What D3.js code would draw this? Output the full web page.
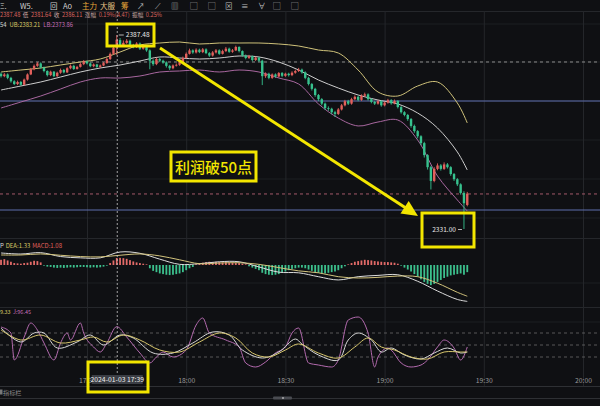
<!DOCTYPE html>
<html><head><meta charset="utf-8">
<script src="https://cdn.jsdelivr.net/npm/d3@7/dist/d3.min.js"></script>
<style>html,body{margin:0;padding:0;background:#0f1013;overflow:hidden}svg{display:block}</style>
</head><body><svg id="c" width="600" height="406"></svg>
<script>
// ---------- DATA ----------
const startTime = "2024-01-03T17:04:00";
const opens = [2376.2,2375.5,2376.0,2375.0,2374.0,2373.2,2373.8,2373.0,2374.5,2376.0,
 2377.5,2378.5,2379.2,2378.0,2377.0,2375.8,2376.8,2375.5,2376.5,2377.3,
 2376.6,2377.8,2378.5,2377.6,2378.2,2379.0,2379.8,2379.2,2378.4,2378.9,
 2378.2,2378.6,2379.3,2380.5,2382.0,2383.8,2386.0,2384.5,2385.2,2385.8,
 2384.6,2384.0,2385.0,2383.5,2384.2,2383.0,2380.0,2379.0,2380.5,2380.0,
 2379.5,2378.5,2377.8,2378.6,2378.8,2379.6,2380.8,2382.0,2383.0,2382.4,
 2383.2,2382.5,2383.3,2382.2,2381.5,2382.4,2383.0,2382.0,2382.8,2383.5,
 2382.6,2383.0,2384.0,2382.8,2381.5,2380.8,2381.3,2380.2,2380.9,2380.0,
 2375.5,2376.2,2375.0,2376.0,2375.4,2376.4,2375.6,2376.2,2375.8,2376.5,
 2377.0,2377.4,2376.6,2375.0,2373.2,2371.8,2370.0,2368.8,2367.5,2366.2,
 2366.0,2365.0,2364.5,2365.8,2367.0,2368.2,2367.5,2368.8,2369.5,2368.6,
 2369.8,2370.2,2368.8,2368.0,2367.5,2368.2,2367.0,2367.8,2368.5,2367.6,
 2368.3,2366.5,2365.0,2364.2,2363.0,2361.0,2359.5,2358.0,2356.0,2352.5,
 2349.0,2345.0,2348.5,2349.5,2348.5,2349.8,2349.0,2347.0,2345.5,2344.0,
 2341.5,2338.0];
const highs = [2376.6,2376.4,2376.3,2375.3,2374.3,2374.2,2374.1,2374.8,2376.3,2377.9,
 2378.9,2379.6,2379.5,2378.3,2377.2,2377.1,2377.0,2376.8,2377.7,2377.6,
 2378.1,2378.9,2378.8,2378.5,2379.4,2380.2,2380.0,2379.5,2379.2,2379.1,
 2378.9,2379.6,2380.9,2382.4,2384.3,2387.48,2386.6,2385.9,2386.3,2386.1,
 2384.9,2385.4,2385.3,2384.6,2384.5,2383.3,2380.4,2380.9,2380.9,2380.3,
 2379.8,2378.8,2378.9,2379.2,2380.0,2381.2,2382.4,2383.5,2383.3,2383.6,
 2383.5,2383.7,2383.6,2382.5,2382.8,2383.4,2383.3,2383.2,2384.0,2383.8,
 2383.4,2384.4,2384.2,2383.0,2381.8,2381.7,2381.5,2381.2,2381.1,2380.3,
 2376.6,2376.5,2376.3,2376.3,2376.7,2376.7,2376.5,2376.5,2376.9,2377.4,
 2377.9,2377.7,2376.9,2375.3,2373.5,2372.1,2370.3,2369.1,2367.8,2366.7,
 2366.3,2365.4,2366.2,2367.4,2368.6,2368.6,2369.2,2369.9,2369.8,2370.2,
 2370.7,2370.5,2369.1,2368.3,2368.6,2368.5,2368.1,2368.9,2368.8,2368.7,
 2368.5,2366.8,2365.3,2364.5,2363.3,2361.4,2359.8,2358.3,2356.4,2352.8,
 2349.4,2349.0,2350.1,2349.9,2350.4,2350.2,2349.3,2347.3,2345.8,2344.3,
 2342.0,2341.8];
const lows = [2375.1,2375.2,2374.6,2373.6,2372.9,2372.9,2372.7,2372.8,2374.2,2375.8,
 2377.2,2378.2,2377.7,2376.6,2375.4,2375.5,2375.2,2375.3,2376.2,2376.3,
 2376.4,2377.5,2377.3,2377.4,2378.0,2378.7,2378.9,2378.1,2378.1,2377.9,
 2377.9,2378.4,2379.1,2380.2,2381.7,2381.64,2384.0,2384.1,2384.9,2384.2,
 2383.6,2383.7,2383.1,2383.2,2382.6,2377.5,2378.5,2378.7,2379.6,2379.1,
 2378.0,2377.3,2377.5,2378.3,2378.5,2379.4,2380.6,2381.8,2382.0,2382.1,
 2382.2,2382.2,2381.9,2381.1,2381.2,2382.1,2381.7,2381.8,2382.5,2382.3,
 2382.3,2382.8,2382.4,2381.2,2380.4,2380.5,2379.8,2379.9,2379.6,2372.9,
 2375.0,2374.6,2374.7,2375.0,2375.1,2375.2,2375.3,2375.4,2375.5,2376.2,
 2376.7,2376.2,2374.6,2372.8,2371.3,2369.5,2368.3,2367.0,2365.7,2365.4,
 2364.4,2363.6,2364.2,2365.5,2366.7,2367.1,2367.2,2368.5,2368.2,2368.3,
 2369.5,2368.4,2367.6,2367.1,2367.2,2366.6,2366.7,2367.5,2367.2,2367.3,
 2366.1,2364.6,2363.8,2362.5,2360.5,2359.0,2357.4,2355.4,2351.8,2348.3,
 2342.5,2344.6,2348.1,2348.0,2348.2,2348.6,2346.5,2345.0,2343.5,2341.0,
 2331.0,2337.6];
const closes = [2375.5,2376.0,2375.0,2374.0,2373.2,2373.8,2373.0,2374.5,2376.0,2377.5,
 2378.5,2379.2,2378.0,2377.0,2375.8,2376.8,2375.5,2376.5,2377.3,2376.6,
 2377.8,2378.5,2377.6,2378.2,2379.0,2379.8,2379.2,2378.4,2378.9,2378.2,
 2378.6,2379.3,2380.5,2382.0,2383.8,2386.11,2384.5,2385.2,2385.8,2384.6,
 2384.0,2385.0,2383.5,2384.2,2383.0,2380.0,2379.0,2380.5,2380.0,2379.5,
 2378.5,2377.8,2378.6,2378.8,2379.6,2380.8,2382.0,2383.0,2382.4,2383.2,
 2382.5,2383.3,2382.2,2381.5,2382.4,2383.0,2382.0,2382.8,2383.5,2382.6,
 2383.0,2384.0,2382.8,2381.5,2380.8,2381.3,2380.2,2380.9,2380.0,2375.5,
 2376.2,2375.0,2376.0,2375.4,2376.4,2375.6,2376.2,2375.8,2376.5,2377.0,
 2377.4,2376.6,2375.0,2373.2,2371.8,2370.0,2368.8,2367.5,2366.2,2366.0,
 2365.0,2364.5,2365.8,2367.0,2368.2,2367.5,2368.8,2369.5,2368.6,2369.8,
 2370.2,2368.8,2368.0,2367.5,2368.2,2367.0,2367.8,2368.5,2367.6,2368.3,
 2366.5,2365.0,2364.2,2363.0,2361.0,2359.5,2358.0,2356.0,2352.5,2349.0,
 2345.0,2348.5,2349.5,2348.5,2349.8,2349.0,2347.0,2345.5,2344.0,2341.5,
 2338.5,2341.3];

// Bollinger bands (sampled at candle indices)
const bollIdx = [0,6,12,18,24,30,36,42,48,54,60,66,72,78,84,90,96,102,108,114,120,126,132,138,141];
const bollUB = [2376.71,2377.29,2377.87,2378.75,2379.62,2380.49,2382.53,2384.57,2385.15,2385.44,2384.86,2385.15,2385.15,2385.15,2384.86,2384.28,2383.11,2382.24,2377.29,2370.89,2369.72,2372.63,2373.80,2367.68,2361.86];
const bollMB = [2371.47,2372.63,2373.80,2375.25,2376.71,2377.87,2378.75,2379.91,2381.08,2380.78,2380.49,2380.78,2381.37,2381.08,2379.62,2377.29,2374.38,2372.05,2370.01,2368.56,2367.39,2364.77,2360.41,2353.42,2348.18];
const bollLB = [2366.23,2367.97,2369.72,2371.76,2373.80,2374.96,2374.96,2375.54,2376.71,2377.00,2377.29,2376.71,2377.29,2376.71,2374.96,2373.22,2367.40,2363.30,2361.00,2362.15,2362.73,2356.91,2346.43,2339.45,2336.24];

// MACD
const macdHist = [0.8,0.9,0.7,0.5, 0.3,0.25,0.2,0.3,0.35, 0.5,0.65,0.6,0.4,
 -0.1,-0.25,-0.3,-0.4,-0.45,-0.4,-0.45,-0.4,-0.35,-0.4,-0.35,-0.3,-0.3,-0.35,-0.4,-0.35,-0.4,-0.35,-0.25,-0.1,
 0.3,0.7,1.08,1.1,1.05,0.95,0.75,0.55, 0.4,0.3,0.2,0.1,
 -0.5,-0.9,-1.1,-1.3,-1.4,-1.5,-1.55,-1.5,-1.4,-1.3,-1.1,-0.8,-0.5,-0.3,
 0.1,0.25,0.35,0.45,0.5,0.45,0.5,0.45,0.4,0.45,0.4,0.35, 0.3,0.3,0.2,0.1,
 -0.2,-0.4,-0.6,-0.8,-1.2,-1.4,-1.5,-1.55,-1.5,-1.4,-1.2,-1.0,-0.8,-0.6,
 -0.5,-0.4,-0.4,-0.5,-0.7,-0.9,-1.1,-1.2,-1.3,-1.3,-1.2,-1.1,-1.0,-0.8,-0.5,
 -0.2,0.1,0.3,0.5,0.6,0.7,0.8,0.75,0.7,0.6,0.55,0.5,0.45,0.45,0.4,0.35,0.2,
 -0.1,-0.4,-0.7,-1.0,-1.4,-1.8,-2.2,-2.6,-2.9,-3.1,-2.9,-2.6,-2.3,-2.0,-1.8,-1.6,-1.5,-1.4,
 -1.3,-1.5,-1.1];
const macdIdx = [0,6,12,18,24,30,36,42,48,54,60,66,72,78,84,90,96,102,108,114,120,126,132,138,141];
const difVals = [1.85,1.69,1.9,1.3,1.1,1.1,2.0,1.8,0.9,0.1,0.2,0.5,0.5,-0.3,-1.1,-1.2,-1.8,-2.3,-1.8,-1.6,-1.5,-2.5,-4.0,-5.3,-5.6];
const deaVals = [1.54,1.54,1.7,1.5,1.3,1.25,1.5,1.7,1.4,0.8,0.2,0.3,0.35,0.1,-0.4,-0.9,-1.2,-1.8,-2.0,-1.9,-1.7,-1.8,-2.8,-4.2,-4.8];

// KDJ
const kIdx = [0,6,10,13,17,23,27,31,36,40,46,52,58,64,69,73,79,84,89,91,96,102,105,108,112,115,118,122,127,131,135,139,141];
const kVals = [92.5,57.5,80,80,42.5,57.5,75,50,75,67.5,30,30,55,82.5,75,37.5,17.5,32.5,65,52.5,25,12.5,62.5,80,62.5,32.5,42.5,25,15,30,42.5,30,32.5];
const dIdx = [0,6,12,18,24,28,32,37,42,48,54,60,66,71,76,81,86,90,96,102,107,111,115,119,124,129,134,139,141];
const dVals = [87.5,62.5,75,55,62.5,70,57.5,75,62.5,37.5,32.5,57.5,80,67.5,30,20,37.5,52.5,30,17.5,45,67.5,45,37.5,20,15,32.5,32.5,32.5];
const jIdx = [0,3,4,7,9,11,13,16,18,20,21,24,25,28,30,32,35,38,42,45,47,49,52,56,59,61,63,68,72,74,77,80,83,86,88,90,93,96,100,102,105,108,111,113,114,117,118,121,124,127,129,132,134,137,139,141];
const jVals = [95,80,12.5,70,105,87.5,55,12.5,55,80,62.5,105,80,45,32.5,55,96,70,30,5,20,32.5,20,37.5,100,117.5,80,62.5,45,5,-5,7.5,30,45,80,92.5,5,0,-5,12.5,112.5,120,80,-5,20,42.5,37.5,5,-5,0,12.5,45,62.5,42.5,12.5,45];
const kdjLevels = [20,50,80];

const timeTicks = ["17:30","18:00","18:30","19:00","19:30","20:00"];
const refLevels = {whiteDash: 2379.62, pinkDash: 2341.2, blue1: 2368.27, blue2: 2336.53};
const crossIndex = 35;
const headerLine2 = [["2387.48","n"],["低","l"],["2381.64","n"],["收","l"],["2386.11","n"],["涨幅","l"],["0.19%(4.47)","n"],["振幅","l"],["0.25%","n"]];
const headerLine3 = [["54","w"],["UB:2383.21","y"],["LB:2373.86","p"]];
const macdLabel = [["P","w"],["DEA:1.33","y"],["MACD:1.08","r"]];
const kdjLabel = [["9.33","y"],["J:96.45","p"]];
const toolbarItems = ["Ξ.","W5.","回","Ao","主力","大服","筹","↗","⟋","▥","▢","▢","⊠","≡","∀","▢","▢"];
const annotationText = "利润破50点";
const footerText = "指标栏";

// ---------- SCALES ----------
const parse = d3.timeParse("%Y-%m-%dT%H:%M:%S");
const t0 = parse(startTime);
const times = closes.map((_, i) => d3.timeMinute.offset(t0, i));
const tickDates = timeTicks.map(s => parse("2024-01-03T" + s + ":00"));
const xs = d3.scaleTime().domain([tickDates[0], tickDates[5]]).range([87, 583]);
const ys = d3.scaleLinear().domain([2331.0, 2387.48]).range([229, 35]);
const ym = d3.scaleLinear().domain([-6, 3]).range([304, 245.5]);
const yk = d3.scaleLinear().domain([0, 100]).range([365, 325]);

const RED = "#e3605c", GREEN = "#37c28e";
const FONT = "'Noto Sans CJK SC','Noto Sans',sans-serif";
const svg = d3.select("#c");
svg.append("rect").attr("width",600).attr("height",406).attr("fill","#0f1013");

// grid
const g = svg.append("g");
[24,62,101,140,179,218,283,322].forEach(y => g.append("line").attr("x1",0).attr("x2",600).attr("y1",y).attr("y2",y).attr("stroke","#1c1e22").attr("stroke-width",1));
[11,238,307].forEach(y => g.append("line").attr("x1",0).attr("x2",600).attr("y1",y+0.5).attr("y2",y+0.5).attr("stroke","#25272b"));
tickDates.forEach(d => g.append("line").attr("x1",xs(d)+0.5).attr("x2",xs(d)+0.5).attr("y1",11).attr("y2",386).attr("stroke","#24262a"));
g.append("line").attr("x1",0).attr("x2",600).attr("y1",386.5).attr("y2",386.5).attr("stroke","#2e3034");
g.append("line").attr("x1",0).attr("x2",600).attr("y1",398.5).attr("y2",398.5).attr("stroke","#2e3034");

// reference lines
g.append("line").attr("x1",0).attr("x2",600).attr("y1",ys(refLevels.whiteDash)).attr("y2",ys(refLevels.whiteDash)).attr("stroke","#8d8d8d").attr("stroke-dasharray","3,3");
g.append("line").attr("x1",0).attr("x2",600).attr("y1",ys(refLevels.pinkDash)).attr("y2",ys(refLevels.pinkDash)).attr("stroke","#a4586a").attr("stroke-dasharray","3,3");
g.append("line").attr("x1",0).attr("x2",600).attr("y1",ys(refLevels.blue1)).attr("y2",ys(refLevels.blue1)).attr("stroke","#5f6fae").attr("stroke-width",1.2);
g.append("line").attr("x1",0).attr("x2",600).attr("y1",ys(refLevels.blue2)).attr("y2",ys(refLevels.blue2)).attr("stroke","#5f6fae").attr("stroke-width",1.2);
kdjLevels.forEach(v => g.append("line").attr("x1",0).attr("x2",600).attr("y1",yk(v)).attr("y2",yk(v)).attr("stroke","#6a6a6a").attr("stroke-dasharray","3,3").attr("stroke-width",0.8));

// Bollinger
const bline = (vals) => d3.line().x((d,i)=>xs(times[bollIdx[i]])).y(d=>ys(d)).curve(d3.curveCatmullRom)(vals);
svg.append("path").attr("d",bline(bollUB)).attr("fill","none").attr("stroke","#cfc27a").attr("stroke-width",1);
svg.append("path").attr("d",bline(bollMB)).attr("fill","none").attr("stroke","#cdcdcd").attr("stroke-width",1);
svg.append("path").attr("d",bline(bollLB)).attr("fill","none").attr("stroke","#a8679f").attr("stroke-width",1);

// candles
const cg = svg.append("g");
closes.forEach((c,i) => {
  const o = opens[i], up = c >= o, col = up ? RED : GREEN;
  const x = xs(times[i]);
  cg.append("line").attr("x1",x).attr("x2",x).attr("y1",ys(highs[i])).attr("y2",ys(lows[i])).attr("stroke",col).attr("stroke-width",0.9);
  const y1 = ys(Math.max(o,c)), y2 = ys(Math.min(o,c));
  cg.append("rect").attr("x",x-1.2).attr("width",2.4).attr("y",y1).attr("height",Math.max(0.8,y2-y1)).attr("fill",col);
});

// MACD
const mg = svg.append("g");
macdHist.forEach((v,i) => {
  const x = xs(times[i]);
  mg.append("rect").attr("x",x-0.9).attr("width",1.8).attr("y",Math.min(ym(v),ym(0))).attr("height",Math.max(0.6,Math.abs(ym(v)-ym(0)))).attr("fill", v>=0 ? "#e26a68" : "#3cc08d");
});
const mline = (idx, vals) => d3.line().x((d,i)=>xs(times[idx[i]])).y(d=>ym(d)).curve(d3.curveCatmullRom)(vals);
mg.append("path").attr("d",mline(macdIdx,difVals)).attr("fill","none").attr("stroke","#dcdcdc").attr("stroke-width",1);
mg.append("path").attr("d",mline(macdIdx,deaVals)).attr("fill","none").attr("stroke","#d2c37c").attr("stroke-width",1);

// KDJ
const kline = (idx, vals, curve) => d3.line().x((d,i)=>xs(times[idx[i]])).y(d=>yk(d)).curve(curve)(vals);
svg.append("path").attr("d",kline(jIdx,jVals,d3.curveMonotoneX)).attr("fill","none").attr("stroke","#b36aae").attr("stroke-width",1);
svg.append("path").attr("d",kline(kIdx,kVals,d3.curveCatmullRom)).attr("fill","none").attr("stroke","#d8d8d8").attr("stroke-width",1);
svg.append("path").attr("d",kline(dIdx,dVals,d3.curveCatmullRom)).attr("fill","none").attr("stroke","#d6c56c").attr("stroke-width",1);

// crosshair
const cx = xs(times[crossIndex]);
svg.append("line").attr("x1",cx+0.5).attr("x2",cx+0.5).attr("y1",11).attr("y2",375).attr("stroke","#c8c8c8").attr("stroke-dasharray","2,2").attr("stroke-width",0.8);

// x axis: labels are hidden where the crosshair time box sits, as in the reference
const clip = svg.append("defs").append("clipPath").attr("id","axisClip");
clip.append("rect").attr("x",-10).attr("y",-10).attr("width",cx-25+10).attr("height",30);
clip.append("rect").attr("x",cx+26).attr("y",-10).attr("width",620-cx).attr("height",30);
const ax = svg.append("g").attr("transform","translate(0,376)").attr("clip-path","url(#axisClip)")
  .call(d3.axisBottom(xs).tickValues(tickDates).tickFormat(d3.timeFormat("%H:%M")).tickSize(0));
ax.select(".domain").remove();
ax.selectAll("text").attr("fill","#9a9a9a").attr("font-size","6.8px").attr("font-family",FONT).attr("dy","0.55em");

// crosshair time label
svg.append("rect").attr("x",cx-25).attr("y",375).attr("width",51).attr("height",9).attr("fill","#3b3e45");
svg.append("text").attr("x",cx+0.5).attr("y",382).attr("text-anchor","middle").attr("fill","#f0f0f0").attr("font-size","6.8px").attr("font-family",FONT).text(d3.timeFormat("%Y-%m-%d %H:%M")(times[crossIndex]));

// max / min markers
const iMax = d3.maxIndex(highs), iMin = d3.minIndex(lows);
const mxX = xs(times[iMax]), mxY = ys(highs[iMax]);
svg.append("line").attr("x1",mxX+2).attr("x2",mxX+7).attr("y1",mxY).attr("y2",mxY).attr("stroke","#e0e0e0").attr("stroke-width",0.8);
svg.append("text").attr("x",mxX+9).attr("y",mxY+2.3).attr("fill","#e8e8e8").attr("font-size","6.6px").attr("font-family",FONT).text(d3.format(".2f")(highs[iMax]));
const mnX = xs(times[iMin]), mnY = ys(lows[iMin]);
svg.append("line").attr("x1",mnX-6).attr("x2",mnX-2).attr("y1",mnY+0.5).attr("y2",mnY+0.5).attr("stroke","#e0e0e0").attr("stroke-width",0.8);
svg.append("text").attr("x",mnX-8).attr("y",mnY+2.5).attr("text-anchor","end").attr("fill","#e8e8e8").attr("font-size","6.6px").attr("font-family",FONT).text(d3.format(".2f")(lows[iMin]));

// header texts: lay out parts one after another to fill a given width
const colors = {n:"#de6660", l:"#c9a9a6", w:"#d8d8d8", y:"#d8c766", p:"#c46fb8", r:"#e0605c"};
function layoutParts(parts, x, y, size, total) {
  let fs = size, nodes, widths, sum;
  for (let k = 0; k < 6; k++) {
    svg.selectAll(".tmp").remove();
    nodes = parts.map(p => svg.append("text").attr("class","tmp").attr("y",y).attr("font-size",fs+"px").attr("font-family",FONT).attr("fill",colors[p[1]]).text(p[0]));
    widths = nodes.map(n => n.node().getComputedTextLength());
    sum = d3.sum(widths);
    if (sum + 1.8*(parts.length-1) <= total) break;
    fs *= 0.94;
  }
  const gap = parts.length > 1 ? (total - sum)/(parts.length-1) : 0;
  let cur = x;
  nodes.forEach((n,i) => { n.attr("x",cur).attr("class",null); cur += widths[i] + gap; });
}
layoutParts(headerLine2, 0, 17, 6.4, 162);
layoutParts(headerLine3, 0, 26.5, 6.6, 73);
layoutParts(macdLabel, 0, 247.5, 6.4, 62);
layoutParts(kdjLabel, 0, 313.5, 6.2, 31);

// toolbar
const tbX = [0,20,50,63,82,100,121,137,155,171,190,208,225,241,258,273,291];
const tbC = ["#cfcfcf","#cfcfcf","#cfcfcf","#cfcfcf","#e8a63a","#e9c58a","#e8a63a","#bdbdbd","#bdbdbd","#bdbdbd","#bdbdbd","#bdbdbd","#bdbdbd","#bdbdbd","#bdbdbd","#bdbdbd","#bdbdbd"];
toolbarItems.forEach((t,i) => svg.append("text").attr("x",tbX[i]).attr("y",8.5).attr("fill",tbC[i]).attr("font-size","7.5px").attr("font-family",FONT).text(t));

// bottom
svg.append("rect").attr("x",0).attr("y",389.5).attr("width",2.5).attr("height",5).attr("fill","#777");
svg.append("text").attr("x",3).attr("y",395).attr("fill","#8a8a8a").attr("font-size","6.2px").attr("font-family",FONT).text(footerText);
svg.append("rect").attr("x",273).attr("y",396.5).attr("width",19).attr("height",3).attr("rx",1).attr("fill","#4a4c52");
svg.append("rect").attr("x",282).attr("y",397.5).attr("width",2).attr("height",1).attr("fill","#dcdcdc");

// annotations
const YEL = "#f3e600";
svg.append("rect").attr("x",107).attr("y",24).attr("width",47).attr("height",22).attr("fill","none").attr("stroke",YEL).attr("stroke-width",3);
svg.append("rect").attr("x",422).attr("y",213).attr("width",52).attr("height",34).attr("fill","none").attr("stroke",YEL).attr("stroke-width",3);
svg.append("rect").attr("x",88).attr("y",362).attr("width",60).attr("height",30).attr("fill","none").attr("stroke",YEL).attr("stroke-width",3);
// arrow
const ax0 = [160,48], tip = [418,216];
const ang = Math.atan2(tip[1]-ax0[1], tip[0]-ax0[0]);
const L = 16, W = 7.5;
const base = [tip[0]-L*Math.cos(ang), tip[1]-L*Math.sin(ang)];
const pv = [-Math.sin(ang), Math.cos(ang)];
svg.append("line").attr("x1",ax0[0]).attr("y1",ax0[1]).attr("x2",base[0]+1.5*Math.cos(ang)).attr("y2",base[1]+1.5*Math.sin(ang)).attr("stroke",YEL).attr("stroke-width",3);
svg.append("path").attr("d",`M${tip[0]},${tip[1]}L${base[0]+W*pv[0]},${base[1]+W*pv[1]}L${base[0]-W*pv[0]},${base[1]-W*pv[1]}Z`).attr("fill",YEL);
// text box
svg.append("rect").attr("x",171).attr("y",152).attr("width",85).attr("height",29).attr("fill","#0f1013").attr("stroke",YEL).attr("stroke-width",3);
svg.append("text").attr("x",213.5).attr("y",172.5).attr("text-anchor","middle").attr("fill",YEL).attr("font-size","15px").attr("font-weight","500").attr("font-family",FONT).text(annotationText);
</script></body></html>
